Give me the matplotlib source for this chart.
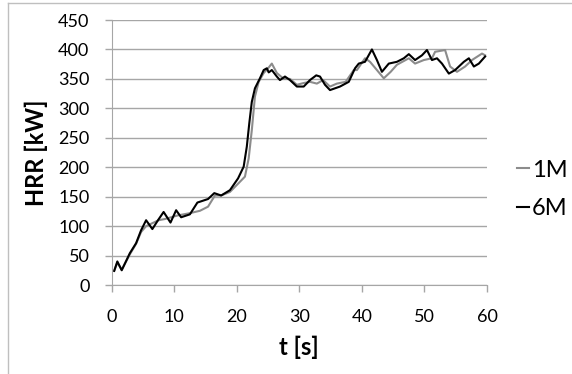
import matplotlib.pyplot as plt
from matplotlib.lines import Line2D

# 1M series (gray)
t_1m = [0.4, 0.9, 1.6, 2.9, 3.9, 4.7, 5.5, 6.5, 7.5, 8.5, 9.5, 10.5, 11.5, 12.5, 14.1,
        15.4, 16.5, 17.5, 18.9, 20.2, 21.3, 21.9, 22.4, 22.9, 23.5, 24.3, 25.0, 25.6,
        26.4, 27.5, 28.5, 29.6, 30.7, 31.7, 32.8, 33.8, 34.9, 36.0, 37.4, 38.7, 39.2,
        40.5, 41.3, 42.4, 43.5, 44.6, 45.6, 47.5, 48.5, 49.9, 51.2, 51.7, 53.3, 54.1,
        55.2, 56.5, 57.6, 59.2, 59.7]
hrr_1m = [24, 38, 26, 52, 70, 90, 100, 105, 110, 112, 115, 118, 120, 122, 126,
          133, 152, 152, 158, 172, 184, 215, 263, 320, 345, 360, 368, 376,
          360, 350, 350, 340, 343, 345, 342, 348, 337, 342, 345, 365, 365,
          385, 379, 365, 351, 362, 374, 385, 376, 382, 385, 396, 399, 371,
          362, 371, 382, 393, 390]

# 6M series (black)
t_6m = [0.4, 0.9, 1.6, 2.9, 3.9, 4.7, 5.5, 6.5, 7.4, 8.3, 9.4, 10.3, 11.1, 12.5, 13.7,
        15.4, 16.4, 17.5, 18.9, 20.2, 21.1, 21.6, 22.0, 22.4, 22.9, 23.7, 24.3, 24.8,
        25.1, 25.6, 26.4, 26.9, 27.7, 28.5, 29.6, 30.7, 31.7, 32.7, 33.3, 34.1, 34.9,
        36.5, 37.9, 38.9, 39.5, 40.5, 41.6, 42.4, 43.2, 44.3, 45.6, 46.7, 47.5, 48.5,
        49.6, 50.4, 51.2, 52.0, 52.8, 53.9, 54.9, 56.3, 57.1, 57.9, 58.7, 59.7]
hrr_6m = [24, 40, 25, 54, 71, 93, 110, 95, 110, 124, 106, 127, 115, 120, 140,
          146, 156, 152, 161, 181, 201, 235, 275, 311, 334, 351, 365, 368,
          361, 365, 354, 348, 354, 348, 337, 337, 348, 356, 354, 340, 331,
          337, 345, 368, 376, 379, 400, 382, 362, 376, 379, 385, 392, 382,
          390, 399, 382, 385, 376, 359, 365, 379, 385, 371, 376, 388]

x_ticks = [0, 10, 20, 30, 40, 50, 60]
y_ticks = [0, 50, 100, 150, 200, 250, 300, 350, 400, 450]

plt.rcParams['font.family'] = ['Lato', 'DejaVu Sans']

fig = plt.figure(figsize=(5.72, 3.74), dpi=100)
ax = fig.add_axes([111.7 / 572, 1 - 285 / 374, (487 - 111.7) / 572, (285 - 20) / 374])

grid_col = '#a6a6a6'
ax.plot(t_1m, hrr_1m, color='#8c8c8c', lw=1.5, label='1M')
ax.plot(t_6m, hrr_6m, color='black', lw=1.5, label='6M')

ax.set_xlim(0, 60)
ax.set_ylim(0, 450)
ax.set_xticks(x_ticks)
ax.set_yticks(y_ticks)
ax.yaxis.grid(True, color=grid_col, lw=1)
ax.set_axisbelow(True)
for s in ['top', 'right']:
    ax.spines[s].set_visible(False)
for s in ['left', 'bottom']:
    ax.spines[s].set_color(grid_col)
ax.tick_params(axis='both', color=grid_col, length=5, width=1, labelsize=13)
ax.tick_params(axis='y', pad=11)
ax.tick_params(axis='x', pad=12)

ax.set_xlabel('t [s]', fontsize=17, fontweight='bold', labelpad=8)
ax.set_ylabel('HRR [kW]', fontsize=17, fontweight='bold', labelpad=7)

fig.legend(loc='center left', bbox_to_anchor=(505 / 572, 1 - 189.5 / 374),
           frameon=False, fontsize=17, handlelength=0.5, handletextpad=0.15,
           labelspacing=0.75, borderpad=0)

# chart area border (partly cropped in the original)
fig.add_artist(Line2D([8 / 572, 8 / 572], [0, 1 - 3 / 374], transform=fig.transFigure,
                      color='#bfbfbf', lw=1))
fig.add_artist(Line2D([8 / 572, 1], [1 - 3 / 374, 1 - 3 / 374], transform=fig.transFigure,
                      color='#bfbfbf', lw=1))

fig.savefig('out.png', dpi=100)
